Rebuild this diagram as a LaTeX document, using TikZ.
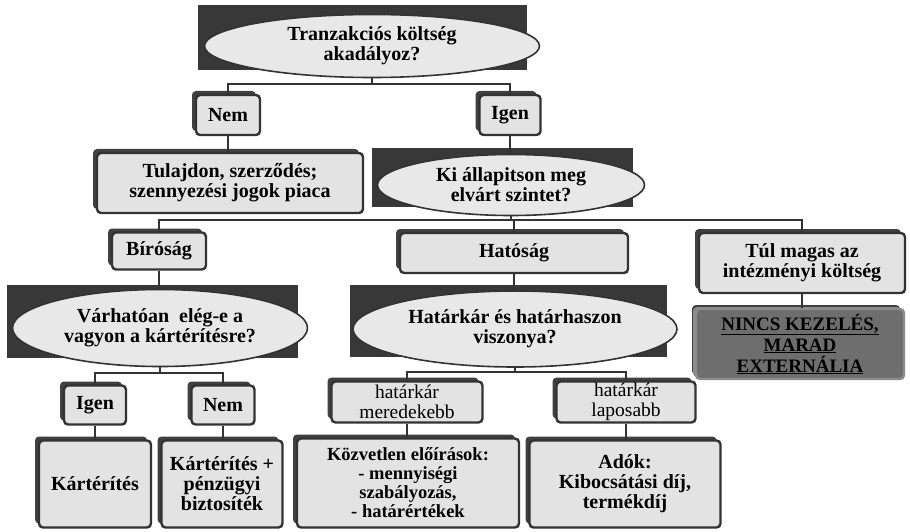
\documentclass[tikz,border=0pt]{standalone}
\usepackage{fontspec}
\setmainfont{Liberation Serif}
\usepackage{tikz}
\usetikzlibrary{%
  shapes.geometric,%
  shadows,%
}

\tikzset{
  backrect/.style={fill=black!78},
  question/.style={ellipse, draw=black!80, line width=1.6pt, fill=black!9,
    inner sep=0pt, align=center},
  answer/.style={rectangle, rounded corners=4pt, draw=black!80, line width=2.4pt,
    fill=black!11, inner sep=0pt, align=center,
    general shadow={fill=black!75, shadow xshift=-4pt, shadow yshift=4pt}},
  verdict/.style={answer, fill=black!57, draw=black!45,
    general shadow={fill=black!45, shadow xshift=-3pt, shadow yshift=2pt}},
  conn/.style={draw=black!80, line width=2.8pt},
  bigtext/.style={font=\fontsize{20}{20}\selectfont\bfseries},
  thintext/.style={font=\fontsize{19.5}{19.5}\selectfont},
}

\begin{document}
\begin{tikzpicture}[x=1pt, y=-1pt]

      \useasboundingbox [fill=white] (0, 0) rectangle (910, 532);

      % kerdesek: sotet hatter + ellipszis
      \fill [backrect] (198, 5) rectangle (527, 70);
      \node (qtranz) at (372, 46) [question, bigtext, minimum width=335, minimum height=63]
        {Tranzakciós költség\\akadályoz?};

      \fill [backrect] (372, 148) rectangle (633, 207);
      \node (qki) at (511, 185) [question, bigtext, minimum width=267, minimum height=61]
        {Ki állapitson meg\\elvárt szintet?};

      \fill [backrect] (7, 285) rectangle (298, 358);
      \node (qvagyon) at (160, 328) [question, bigtext, minimum width=295, minimum height=77]
        {Várhatóan \ elég-e a\\vagyon a kártérítésre?};

      \fill [backrect] (350, 285) rectangle (667, 357);
      \node (qhatar) at (515, 329) [question, bigtext, minimum width=324, minimum height=76]
        {Határkár és határhaszon\\viszonya?};

      % valaszok
      \node (nem1) at (228, 115) [answer, bigtext, minimum width=64, minimum height=40] {Nem};
      \node (igen1) at (510, 115) [answer, bigtext, minimum width=61, minimum height=40] {Igen};

      \node (piac) at (230, 183) [answer, bigtext, minimum width=266, minimum height=60]
        {Tulajdon, szerződés;\\szennyezési jogok piaca};

      \node (birosag) at (159, 251) [answer, bigtext, minimum width=94, minimum height=37] {Bíróság};
      \node (hatosag) at (514, 253) [answer, bigtext, minimum width=228, minimum height=40] {Hatóság};
      \node (tulmagas) at (802, 263) [answer, bigtext, minimum width=206, minimum height=60]
        {Túl magas az\\intézményi költség};

      \node (nincs) at (800, 344) [verdict, font=\fontsize{19}{21}\selectfont\bfseries,
        minimum width=208, minimum height=70]
        {\underline{NINCS KEZELÉS,}\\\underline{MARAD}\\\underline{EXTERNÁLIA}};

      \node (igen2) at (95, 405) [answer, bigtext, minimum width=62, minimum height=39] {Igen};
      \node (nem2) at (223, 405) [answer, bigtext, minimum width=63, minimum height=39] {Nem};

      \node (meredek) at (407, 402) [answer, thintext, minimum width=151, minimum height=41]
        {határkár\\meredekebb};
      \node (lapos) at (626, 402) [answer, thintext, minimum width=139, minimum height=41]
        {határkár\\laposabb};

      \node (karterites) at (95, 484) [answer, bigtext, minimum width=112, minimum height=87]
        {Kártérítés};
      \node (biztositek) at (222, 484) [answer, bigtext, minimum width=121, minimum height=87]
        {Kártérítés +\\pénzügyi\\biztosíték};
      \node (eloiras) at (408, 483) [answer, font=\fontsize{18.5}{19}\selectfont\bfseries,
        minimum width=222, minimum height=89]
        {Közvetlen előírások:\\- mennyiségi\\szabályozás,\\- határértékek};
      \node (adok) at (625, 484) [answer, bigtext, minimum width=191, minimum height=87]
        {Adók:\\Kibocsátási díj,\\termékdíj};

      % elagazasok
      \coordinate (b1) at (372, 84);
      \coordinate (b2) at (511, 220);
      \coordinate (b3) at (160, 373);
      \coordinate (b4) at (515, 372);

      \draw [conn] (qtranz.south) -- (b1);
      \draw [conn] (nem1.north) -- (nem1.north |- b1) -- (igen1.north |- b1) -- (igen1.north);
      \draw [conn] (nem1.south) -- (nem1.south |- piac.north);
      \draw [conn] (igen1.south) -- (igen1.south |- qki.north);

      \draw [conn] (qki.south) -- (b2);
      \draw [conn] (birosag.north) -- (birosag.north |- b2) -- (tulmagas.north |- b2)
        -- (tulmagas.north);
      \draw [conn] (hatosag.north) -- (hatosag.north |- b2);
      \draw [conn] (birosag.south) -- (birosag.south |- qvagyon.north);
      \draw [conn] (hatosag.south) -- (hatosag.south |- qhatar.north);
      \draw [conn] (tulmagas.south) -- (tulmagas.south |- nincs.north);

      \draw [conn] (qvagyon.south) -- (b3);
      \draw [conn] (igen2.north) -- (igen2.north |- b3) -- (nem2.north |- b3) -- (nem2.north);
      \draw [conn] (igen2.south) -- (igen2.south |- karterites.north);
      \draw [conn] (nem2.south) -- (nem2.south |- biztositek.north);

      \draw [conn] (qhatar.south) -- (b4);
      \draw [conn] (meredek.north) -- (meredek.north |- b4) -- (lapos.north |- b4) -- (lapos.north);
      \draw [conn] (meredek.south) -- (meredek.south |- eloiras.north);
      \draw [conn] (lapos.south) -- (lapos.south |- adok.north);

    \end{tikzpicture}
\end{document}
